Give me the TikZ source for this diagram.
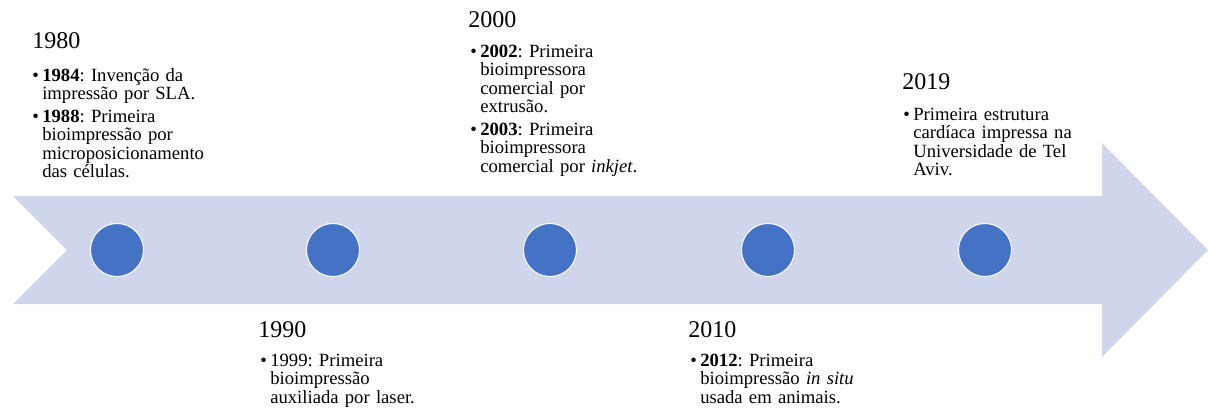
\documentclass[tikz,border=0pt]{standalone}
\usepackage{fontspec}
\setmainfont{Liberation Serif}
\frenchspacing
\definecolor{arrowfill}{HTML}{CFD5EA}
\definecolor{dotfill}{HTML}{4472C4}
\newcommand{\tlbullet}{\makebox[7.5pt][l]{•}}
\newcommand{\tlindent}{\hspace*{7.5pt}}
\begin{document}
\begin{tikzpicture}[x=0.75pt,y=-0.75pt,
  year/.style={anchor=base west, inner sep=0pt, font=\fontsize{18}{20}\selectfont},
  items/.style={anchor=base west, inner sep=0pt, text width=170pt, align=left, font=\fontsize{14}{13.9}\selectfont\frenchspacing},
  dot/.style={circle, fill=dotfill, draw=white, line width=0.75pt, minimum size=39.75pt, inner sep=0pt}]
\useasboundingbox (0,0) rectangle (1208,411);
% arrow band
\fill[arrowfill] (13,196) -- (1102,196) -- (1102,143) -- (1208,250) -- (1102,357) -- (1102,304) -- (13,304) -- (67,250) -- cycle;
% dots
\node[dot] (d1) at (117,250) {};
\node[dot] (d2) at (333,250) {};
\node[dot] (d3) at (550,250) {};
\node[dot] (d4) at (768,250) {};
\node[dot] (d5) at (985,250) {};
% 1980
\node[year] (y1980) at (32,48) {1980};
\node[items] (t1980) at (32,81) {\tlbullet\textbf{1984}: Invenção da\\
\tlindent impressão por SLA.\\[3pt]
\tlbullet\textbf{1988}: Primeira\\
\tlindent bioimpressão por\\
\tlindent microposicionamento\\
\tlindent das células.};
% 1990
\node[year] (y1990) at (258,337) {1990};
\node[items] (t1990) at (260,366) {\tlbullet 1999: Primeira\\
\tlindent bioimpressão\\
\tlindent auxiliada por laser.};
% 2000
\node[year] (y2000) at (468,27) {2000};
\node[items] (t2000) at (470,57) {\tlbullet\textbf{2002}: Primeira\\
\tlindent bioimpressora\\
\tlindent comercial por\\
\tlindent extrusão.\\[3pt]
\tlbullet\textbf{2003}: Primeira\\
\tlindent bioimpressora\\
\tlindent comercial por \textit{inkjet}.};
% 2010
\node[year] (y2010) at (688,337) {2010};
\node[items] (t2010) at (690,366) {\tlbullet\textbf{2012}: Primeira\\
\tlindent bioimpressão \textit{in situ}\\
\tlindent usada em animais.};
% 2019
\node[year] (y2019) at (902,89) {2019};
\node[items] (t2019) at (903,120) {\tlbullet Primeira estrutura\\
\tlindent cardíaca impressa na\\
\tlindent Universidade de Tel\\
\tlindent Aviv.};
\end{tikzpicture}
\end{document}
